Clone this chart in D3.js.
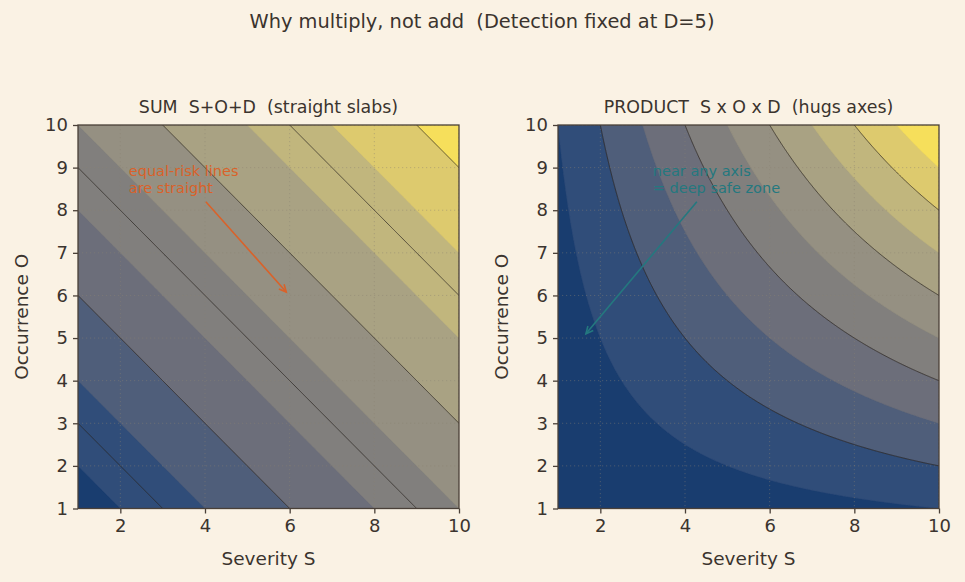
<!DOCTYPE html>
<html>
<head>
<meta charset="utf-8">
<script src="https://cdn.jsdelivr.net/npm/d3@7"></script>
<style>
body { margin: 0; background: #faf2e4; }
svg { display: block; font-family: "DejaVu Sans", sans-serif; }
svg text { white-space: pre; }
</style>
</head>
<body>
<svg id="chart" width="965" height="582"></svg>
<script>
// chart values
var detection = 5;
var severityRange = [1, 10];
var occurrenceRange = [1, 10];
var xTicks = [2, 4, 6, 8, 10];
var yTicks = [1, 2, 3, 4, 5, 6, 7, 8, 9, 10];
var sumFillLevels = [6, 8, 10, 12, 14, 16, 18, 20, 22, 24, 26];
var sumLineLevels = [9, 12, 15, 18, 21, 24];
var prodFillLevels = [0, 50, 100, 150, 200, 250, 300, 350, 400, 450, 500];
var prodLineLevels = [100, 200, 300, 400];
var sumNote = ["equal-risk lines", "are straight"];
var prodNote = ["near any axis", "= deep safe zone"];

var bg = "#faf2e4", ink = "#3b342e", spine = "#4a4038";

var svg = d3.select("#chart");
svg.append("rect").attr("width", 965).attr("height", 582).attr("fill", bg);

svg.append("text").attr("x", 482).attr("y", 28).attr("text-anchor", "middle")
	.attr("font-size", 19.4).attr("fill", ink)
	.text("Why multiply, not add  (Detection fixed at D=5)");

var panels = [
	{ left: 78, title: "SUM  S+O+D  (straight slabs)",
	  f: function(s, o) { return s + o + detection; },
	  fill: sumFillLevels, lines: sumLineLevels,
	  note: sumNote, noteAt: [2.2, 9.1], color: "#d9622a",
	  arrow: [[4.02, 8.2], [5.92, 6.08]] },
	{ left: 558, title: "PRODUCT  S x O x D  (hugs axes)",
	  f: function(s, o) { return s * o * detection; },
	  fill: prodFillLevels, lines: prodLineLevels,
	  note: prodNote, noteAt: [3.24, 9.1], color: "#24787f",
	  arrow: [[4.28, 8.2], [1.66, 5.1]] }
];

var plotTop = 125, plotBottom = 508.5, w = 381;

// sampling grid (padded past the axes, clipped afterwards)
var h = 0.025, pad = 4;
var v0 = severityRange[0] - pad * h;
var n = Math.round((severityRange[1] - severityRange[0]) / h) + 2 * pad + 1;

panels.forEach(function(p, pi) {
	var x = d3.scaleLinear().domain(severityRange).range([p.left, p.left + w]);
	var y = d3.scaleLinear().domain(occurrenceRange).range([plotBottom, plotTop]);
	var g = svg.append("g");

	var clipId = "clip" + pi;
	svg.append("clipPath").attr("id", clipId).append("rect")
		.attr("x", p.left).attr("y", plotTop).attr("width", w).attr("height", plotBottom - plotTop);

	var values = new Array(n * n);
	for (var j = 0; j < n; j++) {
		for (var i = 0; i < n; i++) {
			values[j * n + i] = p.f(v0 + i * h, v0 + j * h);
		}
	}

	var proj = d3.geoTransform({
		point: function(cx, cy) {
			this.stream.point(x(v0 + (cx - 0.5) * h), y(v0 + (cy - 0.5) * h));
		}
	});
	var path = d3.geoPath(proj);

	var lo = p.fill[0], hi = p.fill[p.fill.length - 1];
	function bandColor(k) {
		var mid = (p.fill[k] + p.fill[k + 1]) / 2;
		var c = d3.interpolateCividis((mid - lo) / (hi - lo));
		return d3.interpolateRgb(bg, c)(0.9);
	}

	var fills = d3.contours().size([n, n]).thresholds(p.fill.slice(0, -1))(values);
	var plot = g.append("g").attr("clip-path", "url(#" + clipId + ")");
	plot.selectAll("path.band").data(fills).enter().append("path")
		.attr("class", "band")
		.attr("d", path)
		.attr("fill", function(d, k) { return bandColor(k); })
		.attr("stroke", function(d, k) { return bandColor(k); })
		.attr("stroke-width", 0.4);

	// grid
	var grid = plot.append("g").attr("stroke", "#8c8272").attr("stroke-opacity", 0.55)
		.attr("stroke-width", 0.8).attr("stroke-dasharray", "1.2,2.8");
	xTicks.forEach(function(t) {
		grid.append("line").attr("x1", x(t)).attr("x2", x(t)).attr("y1", plotTop).attr("y2", plotBottom);
	});
	yTicks.forEach(function(t) {
		grid.append("line").attr("x1", p.left).attr("x2", p.left + w).attr("y1", y(t)).attr("y2", y(t));
	});

	var lines = d3.contours().size([n, n]).thresholds(p.lines)(values);
	plot.selectAll("path.iso").data(lines).enter().append("path")
		.attr("class", "iso")
		.attr("d", path)
		.attr("fill", "none")
		.attr("stroke", "#2a2420")
		.attr("stroke-opacity", 0.7)
		.attr("stroke-width", 1);

	// annotation
	var a0 = [x(p.arrow[0][0]), y(p.arrow[0][1])], a1 = [x(p.arrow[1][0]), y(p.arrow[1][1])];
	var ang = Math.atan2(a1[1] - a0[1], a1[0] - a0[0]);
	var hl = 8, hw = 0.45;
	g.append("line").attr("x1", a0[0]).attr("y1", a0[1]).attr("x2", a1[0]).attr("y2", a1[1])
		.attr("stroke", p.color).attr("stroke-width", 1.6);
	g.append("path")
		.attr("d", "M" + (a1[0] - hl * Math.cos(ang - hw)) + "," + (a1[1] - hl * Math.sin(ang - hw)) +
			"L" + a1[0] + "," + a1[1] +
			"L" + (a1[0] - hl * Math.cos(ang + hw)) + "," + (a1[1] - hl * Math.sin(ang + hw)))
		.attr("fill", "none").attr("stroke", p.color).attr("stroke-width", 1.6);
	var note = g.append("text").attr("font-size", 14.5).attr("fill", p.color);
	p.note.forEach(function(s, k) {
		note.append("tspan").attr("x", x(p.noteAt[0])).attr("y", y(p.noteAt[1]) + 13 + k * 17).text(s);
	});

	// spines
	g.append("rect").attr("x", p.left).attr("y", plotTop).attr("width", w).attr("height", plotBottom - plotTop)
		.attr("fill", "none").attr("stroke", spine).attr("stroke-width", 1.3);

	// axes
	var xa = g.append("g").attr("transform", "translate(0," + plotBottom + ")")
		.call(d3.axisBottom(x).tickValues(xTicks).tickSize(5).tickPadding(6));
	var ya = g.append("g").attr("transform", "translate(" + p.left + ",0)")
		.call(d3.axisLeft(y).tickValues(yTicks).tickSize(5).tickPadding(5));
	[xa, ya].forEach(function(ax) {
		ax.select(".domain").remove();
		ax.selectAll("line").attr("stroke", spine).attr("stroke-width", 1.3);
		ax.selectAll("text").attr("fill", ink).attr("font-size", 18).attr("font-family", "DejaVu Sans");
	});

	g.append("text").attr("x", p.left + w / 2).attr("y", 113).attr("text-anchor", "middle")
		.attr("font-size", 17.4).attr("fill", ink).text(p.title);
	g.append("text").attr("x", p.left + w / 2).attr("y", 565).attr("text-anchor", "middle")
		.attr("font-size", 18.5).attr("fill", ink).text("Severity S");
	g.append("text").attr("transform", "translate(" + (p.left - 50) + "," + ((plotTop + plotBottom) / 2) + ") rotate(-90)")
		.attr("text-anchor", "middle").attr("font-size", 18.5).attr("fill", ink).text("Occurrence O");
});
</script>
</body>
</html>
